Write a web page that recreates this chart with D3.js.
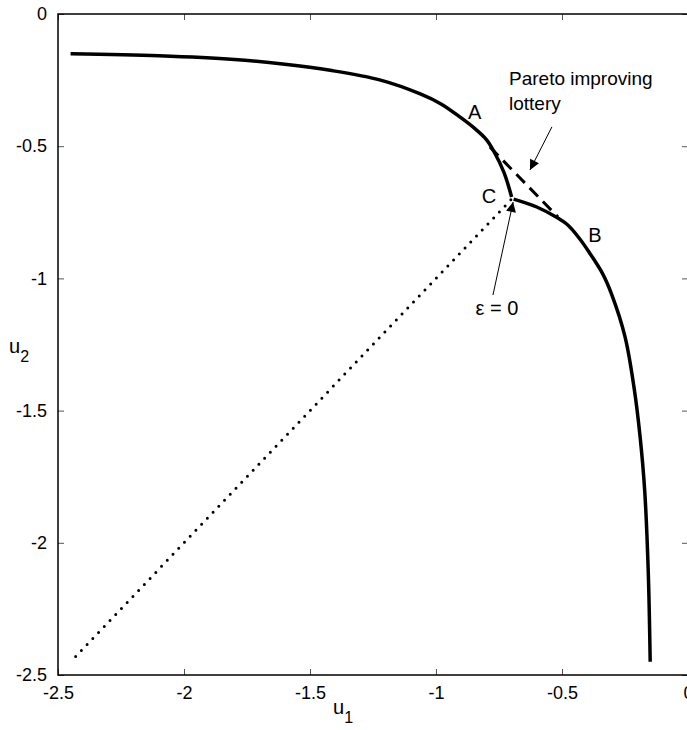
<!DOCTYPE html>
<html>
<head>
<meta charset="utf-8">
<script src="https://cdn.jsdelivr.net/npm/d3@7"></script>
<style>
 body { margin: 0; background: #fff; }
 text { font-family: Arial, "Liberation Sans", sans-serif; fill: #000; }
</style>
</head>
<body>
<div id="chart"></div>
<script>
// frontier, upper branch (u1, u2) from far left down to the kink C
var upperU1 = [-2.45, -2.10, -1.80, -1.60, -1.42, -1.22, -1.06, -0.98, -0.90, -0.85, -0.80, -0.77, -0.73, -0.70];
var upperU2 = [-0.150, -0.158, -0.172, -0.190, -0.213, -0.250, -0.303, -0.340, -0.393, -0.430, -0.475, -0.520, -0.600, -0.692];
// lower branch from the kink C down to the bottom
var lowerU1 = [-0.692, -0.600, -0.520, -0.475, -0.430, -0.393, -0.340, -0.303, -0.250, -0.213, -0.190, -0.172, -0.158, -0.150];
var lowerU2 = [-0.70, -0.73, -0.77, -0.80, -0.85, -0.90, -0.98, -1.06, -1.22, -1.42, -1.60, -1.80, -2.10, -2.45];
// eps = 0 diagonal (dotted) and the lottery chord (dashed)
var diagU1 = [-2.43, -0.70];
var diagU2 = [-2.43, -0.70];
var lotteryU1 = [-0.786, -0.516];
var lotteryU2 = [-0.503, -0.768];

var xTicks = [-2.5, -2, -1.5, -1, -0.5, 0];
var yTicks = [0, -0.5, -1, -1.5, -2, -2.5];

var labels = [
  {text: "A", u1: -0.847, u2: -0.369},
  {text: "B", u1: -0.369, u2: -0.835},
  {text: "C", u1: -0.790, u2: -0.690}
];
var arrows = [
  {x1: -0.540, y1: -0.427, x2: -0.627, y2: -0.590},
  {x1: -0.774, y1: -1.063, x2: -0.694, y2: -0.711}
];

var W = 687, H = 730;
var margin = {left: 58, top: 14};
var pw = 630, ph = 661;

var svg = d3.select("#chart").append("svg")
    .attr("width", W).attr("height", H);

var x = d3.scaleLinear().domain([-2.5, 0]).range([margin.left, margin.left + pw]);
var y = d3.scaleLinear().domain([0, -2.5]).range([margin.top, margin.top + ph]);

svg.append("defs").append("marker")
    .attr("id", "head")
    .attr("viewBox", "0 0 10 10")
    .attr("refX", 10).attr("refY", 5)
    .attr("markerWidth", 14).attr("markerHeight", 10)
    .attr("markerUnits", "userSpaceOnUse")
    .attr("orient", "auto")
  .append("path").attr("d", "M0,0 L10,5 L0,10 z").attr("fill", "#000");

// ticks, inward on all four sides
function tickStyle(g) {
  g.select(".domain").remove();
  g.selectAll(".tick line").attr("stroke", "#555").attr("stroke-width", 1);
  g.selectAll(".tick text").attr("font-size", 18).attr("fill", "#000");
}
var fmt = function(d) { return String(d); };
svg.append("g").attr("transform", "translate(0," + (margin.top + ph) + ")")
    .call(d3.axisBottom(x).tickValues(xTicks).tickSizeInner(-6).tickPadding(11).tickFormat(fmt))
    .call(tickStyle);
svg.append("g").attr("transform", "translate(0," + margin.top + ")")
    .call(d3.axisTop(x).tickValues(xTicks).tickSizeInner(-6).tickFormat(""))
    .call(tickStyle);
svg.append("g").attr("transform", "translate(" + margin.left + ",0)")
    .call(d3.axisLeft(y).tickValues(yTicks).tickSizeInner(-6).tickPadding(11).tickFormat(fmt))
    .call(tickStyle);
svg.append("g").attr("transform", "translate(" + (margin.left + pw) + ",0)")
    .call(d3.axisRight(y).tickValues(yTicks).tickSizeInner(-6).tickFormat(""))
    .call(tickStyle);

svg.append("rect")
    .attr("x", margin.left).attr("y", margin.top)
    .attr("width", pw).attr("height", ph)
    .attr("fill", "none").attr("stroke", "#000").attr("stroke-width", 1.5);

var line = d3.line().x(function(d) { return x(d[0]); }).y(function(d) { return y(d[1]); });
var curve = d3.line().curve(d3.curveCatmullRom.alpha(0.5))
    .x(function(d) { return x(d[0]); }).y(function(d) { return y(d[1]); });

svg.append("path").datum(d3.zip(upperU1, upperU2))
    .attr("d", curve).attr("fill", "none").attr("stroke", "#000").attr("stroke-width", 3.5)
    .attr("stroke-linejoin", "round");
svg.append("path").datum(d3.zip(lowerU1, lowerU2))
    .attr("d", curve).attr("fill", "none").attr("stroke", "#000").attr("stroke-width", 3.5)
    .attr("stroke-linejoin", "round");

svg.append("path").datum(d3.zip(diagU1, diagU2))
    .attr("d", line).attr("fill", "none").attr("stroke", "#000").attr("stroke-width", 3)
    .attr("stroke-linecap", "round").attr("stroke-dasharray", "0 8.3");

svg.append("path").datum(d3.zip(lotteryU1, lotteryU2))
    .attr("d", line).attr("fill", "none").attr("stroke", "#000").attr("stroke-width", 3)
    .attr("stroke-dasharray", "12 7");

svg.selectAll(".arrow").data(arrows).enter().append("line")
    .attr("x1", function(d) { return x(d.x1); }).attr("y1", function(d) { return y(d.y1); })
    .attr("x2", function(d) { return x(d.x2); }).attr("y2", function(d) { return y(d.y2); })
    .attr("stroke", "#000").attr("stroke-width", 1)
    .attr("marker-end", "url(#head)");

svg.selectAll(".lab").data(labels).enter().append("text")
    .attr("x", function(d) { return x(d.u1); }).attr("y", function(d) { return y(d.u2); })
    .attr("text-anchor", "middle").attr("dominant-baseline", "central")
    .attr("font-size", 20).text(function(d) { return d.text; });

svg.append("text").attr("x", 509).attr("y", 85).attr("font-size", 19).text("Pareto improving");
svg.append("text").attr("x", 509).attr("y", 110).attr("font-size", 19).text("lottery");
svg.append("text").attr("x", x(-0.758)).attr("y", y(-1.138)).attr("text-anchor", "middle")
    .attr("font-size", 20).text("\u03b5 = 0");

var xl = svg.append("text").attr("x", 333).attr("y", 714).attr("font-size", 20);
xl.append("tspan").text("u");
xl.append("tspan").attr("dy", 9).attr("font-size", 16).text("1");
var yl = svg.append("text").attr("x", 9).attr("y", 353).attr("font-size", 20);
yl.append("tspan").text("u");
yl.append("tspan").attr("dy", 9).attr("font-size", 16).text("2");
</script>
</body>
</html>
